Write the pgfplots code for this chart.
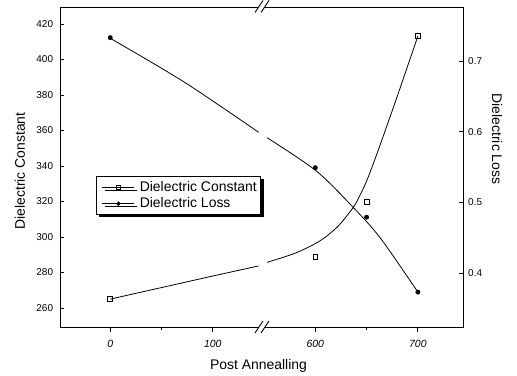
\documentclass[border=0pt]{standalone}
\usepackage{pgfplots}
\pgfplotsset{compat=1.18}
\usepackage{pgfplotstable}
\usepackage{fontspec}
\setmainfont{Liberation Sans}
\usetikzlibrary{shadows}

% measured points (T = post annealing temperature)
\pgfplotstableread{
T C
0 265
600 288.6
650 319.9
700 413.2
}\constmarks
\pgfplotstableread{
T L
0 0.733
600 0.549
650 0.479
700 0.373
}\lossmarks
% fitted curves (broken at the axis break)
\pgfplotstableread{
T C
0 265
50 271.5
100 278
144.7 283.7
}\constfitA
\pgfplotstableread{
T C
552.9 285.7
570 288.8
585 292
605 298
622 306
637 316.7
644 324.0
650 331.5
656 340.5
665 354.8
680 379.5
700 413.2
}\constfitB
\pgfplotstableread{
T L
0 0.7321
72 0.6703
144.7 0.5991
}\lossfitA
\pgfplotstableread{
T L
552.9 0.5915
601 0.5443
636.8 0.493
663.4 0.4495
700 0.373
}\lossfitB

\pgfplotsset{
  common/.style={
    scale only axis, width=403bp, height=320.5bp,
    xmin=-49, xmax=344,
    axis line style={line width=0.9bp, black},
    tick style={black, line width=0.8bp},
    major tick length=4bp, minor tick length=2.5bp,
    /pgf/number format/assume math mode=true,
    yticklabel style={font=\fontsize{10}{12}\selectfont},
    label style={font=\fontsize{14}{16}\selectfont},
    clip=false,
  },
}

\begin{document}
\begin{tikzpicture}
\begin{axis}[common, name=ax,
  ymin=249, ymax=429.6,
  xtick={0,100,200,300}, xticklabels={0,100,600,700},
  minor xtick={50,250},
  xtick pos=bottom, ytick pos=left,
  xtick align=outside, ytick align=inside,
  ytick={260,280,...,420},
  xticklabel style={font=\fontsize{10.5}{12}\selectfont\itshape, yshift=-5bp},
  yticklabel style={xshift=-3.4bp},
  xlabel={Post Annealling},
  ylabel={Dielectric Constant},
  xlabel style={at={(axis description cs:0.4926,-0.12)}, anchor=center},
  ylabel style={at={(axis description cs:-0.0993,0.488)}, anchor=center},
]
\addplot[black, line width=0.8bp, smooth] table[x expr={\thisrow{T}>=400 ? \thisrow{T}-400 : \thisrow{T}}, y=C] {\constfitA};
\addplot[black, line width=0.8bp, smooth] table[x expr={\thisrow{T}>=400 ? \thisrow{T}-400 : \thisrow{T}}, y=C] {\constfitB};
\addplot[only marks, mark=square, mark size=2.4bp, mark options={black, fill=white, line width=0.7bp}] table[x expr={\thisrow{T}>=400 ? \thisrow{T}-400 : \thisrow{T}}, y=C] {\constmarks};
\end{axis}

\begin{axis}[common,
  ymin=0.3229, ymax=0.7764,
  axis x line=none, axis y line*=right,
  ytick={0.4,0.5,0.6,0.7}, ytick pos=right, ytick align=inside,
  yticklabel style={xshift=1.7bp, /pgf/number format/.cd, fixed, precision=1},
  ylabel={Dielectric Loss},
  ylabel style={at={(axis description cs:1.0844,0.588)}, anchor=center, rotate=180},
  legend style={at={(axis description cs:0.0886,0.473)}, anchor=north west,
    draw=black, line width=0.8bp, fill=white,
    drop shadow={shadow xshift=3bp, shadow yshift=-3bp, opacity=1, fill=black},
    font=\fontsize{14}{16}\selectfont, inner xsep=2bp, inner ysep=3bp, row sep=1bp,
    /tikz/every odd column/.append style={column sep=3bp}},
  legend cell align=left,
  legend image code/.code={\path (-4bp,0bp) -- (-4bp,0bp); \draw[mark repeat=2,mark phase=2] plot coordinates {(0bp,0bp) (16bp,0bp) (32bp,0bp)};},
]
\addlegendimage{black, line width=0.7bp, mark=square, mark size=1.8bp, mark options={fill=white}}
\addlegendentry{Dielectric Constant}
\addplot[black, line width=0.8bp, smooth, forget plot] table[x expr={\thisrow{T}>=400 ? \thisrow{T}-400 : \thisrow{T}}, y=L] {\lossfitA};
\addplot[black, line width=0.8bp, smooth, forget plot] table[x expr={\thisrow{T}>=400 ? \thisrow{T}-400 : \thisrow{T}}, y=L] {\lossfitB};
\addplot[only marks, mark=*, mark size=2.2bp, mark options={black}, forget plot] table[x expr={\thisrow{T}>=400 ? \thisrow{T}-400 : \thisrow{T}}, y=L] {\lossmarks};
\addlegendimage{black, line width=0.7bp, mark=*, mark size=1.8bp}
\addlegendentry{Dielectric Loss}
\end{axis}

% axis break marks
\foreach \yy in {0,320.5}{
  \fill[white] (195bp,\yy bp-5.5bp) -- (201bp,\yy bp-5.5bp) -- (209bp,\yy bp+6.5bp) -- (203bp,\yy bp+6.5bp) -- cycle;
  \draw[black, line width=0.9bp] (195bp,\yy bp-5.5bp) -- (203bp,\yy bp+6.5bp);
  \draw[black, line width=0.9bp] (201bp,\yy bp-5.5bp) -- (209bp,\yy bp+6.5bp);
}
\pgfresetboundingbox
\path[use as bounding box] (-60bp,-48.5bp) rectangle (457bp,327.5bp);
\end{tikzpicture}
\end{document}
